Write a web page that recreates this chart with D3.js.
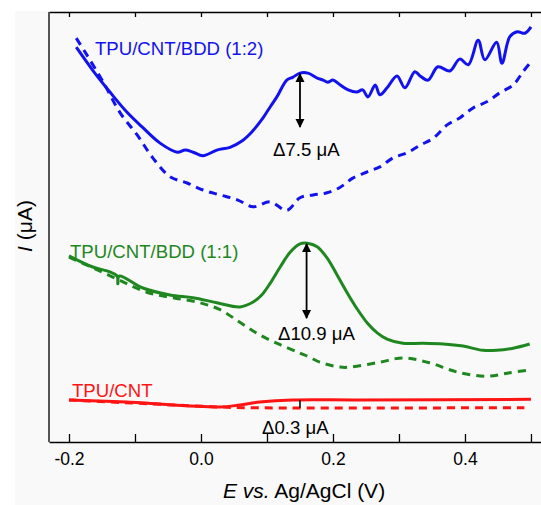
<!DOCTYPE html>
<html>
  <head>
    <meta charset="utf-8" />
    <title>DPV traces</title>
    <style>
      body { margin: 0; background: #fff; }
      svg { display: block; font-family: "Liberation Sans", Arial, sans-serif; }
    </style>
  </head>
  <body>
    <div id="chart"></div>
    <script src="https://cdn.jsdelivr.net/npm/d3@7"></script>
    <script>
      // values: [E (V), I (uA, arbitrary offset)]
      var blueSolid = [[-0.189,56.4],[-0.164,53.1],[-0.138,50.0],[-0.112,47.1],[-0.088,44.9],[-0.062,42.7],
        [-0.036,41.4],[-0.024,41.7],[-0.012,41.4],[0.003,40.9],[0.024,41.7],[0.044,42.1],[0.062,43.0],
        [0.077,44.3],[0.094,46.3],[0.105,47.9],[0.115,49.3],[0.130,51.7],[0.139,52.1],[0.150,52.7],
        [0.162,52.7],[0.176,52.0],[0.185,51.7],[0.192,51.4],[0.200,51.7],[0.211,51.0],[0.223,50.3],
        [0.236,50.0],[0.245,50.3],[0.253,49.3],[0.264,51.0],[0.271,49.6],[0.282,50.6],[0.297,52.3],
        [0.309,50.6],[0.324,52.9],[0.332,52.3],[0.344,51.7],[0.359,53.6],[0.377,53.0],[0.392,54.7],
        [0.405,53.9],[0.420,57.4],[0.430,54.6],[0.448,57.1],[0.456,54.1],[0.468,57.9],[0.479,58.6],
        [0.491,58.4],[0.500,59.3]];
      var blueDashed = [[-0.189,57.7],[-0.173,55.3],[-0.148,51.4],[-0.123,47.1],[-0.097,43.9],[-0.073,40.6],
        [-0.047,37.9],[-0.021,37.0],[0.003,36.0],[0.029,35.3],[0.055,34.6],[0.079,33.6],[0.105,34.3],
        [0.130,33.1],[0.150,34.9],[0.170,35.3],[0.191,35.6],[0.211,36.4],[0.230,37.7],[0.252,38.6],
        [0.271,39.3],[0.291,40.6],[0.312,41.3],[0.332,42.4],[0.352,43.4],[0.373,45.3],[0.392,46.3],
        [0.412,47.7],[0.433,48.6],[0.453,49.9],[0.473,51.0],[0.488,52.9],[0.500,54.3]];
      var greenSolid = [[-0.200,26.6],[-0.164,25.0],[-0.138,24.3],[-0.127,23.7],[-0.126,22.6],[-0.124,23.7],
        [-0.088,22.0],[-0.047,21.0],[-0.012,20.6],[0.024,19.9],[0.059,19.3],[0.079,20.0],[0.092,21.0],
        [0.105,22.7],[0.120,25.0],[0.135,27.1],[0.150,28.3],[0.161,28.4],[0.176,27.9],[0.191,26.3],
        [0.206,23.9],[0.221,21.4],[0.236,19.1],[0.252,17.0],[0.267,15.6],[0.282,14.7],[0.306,14.1],
        [0.336,14.1],[0.367,14.0],[0.397,13.7],[0.427,13.1],[0.448,13.1],[0.473,13.4],[0.498,14.0]];
      var greenDashed = [[-0.200,26.4],[-0.164,24.9],[-0.123,23.1],[-0.082,21.4],[-0.042,20.6],[-0.002,19.9],
        [0.029,18.9],[0.059,17.1],[0.089,15.3],[0.120,13.9],[0.150,12.7],[0.165,12.1],[0.180,11.4],
        [0.211,10.7],[0.226,10.7],[0.271,11.4],[0.306,12.0],[0.347,11.3],[0.388,10.0],[0.433,9.4],
        [0.468,9.9],[0.498,10.3]];
      var redSolid = [[-0.200,6.0],[-0.112,5.7],[0.029,5.0],[0.059,5.3],[0.089,5.7],[0.139,6.0],[0.241,6.0],[0.500,6.1]];
      var redDashed = [[-0.200,6.0],[0.029,5.0],[0.064,4.9],[0.490,4.9]];

      var seriesNames = ["TPU/CNT/BDD (1:2)", "TPU/CNT/BDD (1:1)", "TPU/CNT"];
      var seriesColors = ["#1212ee", "#1f871f", "#ff1414"];
      // peak-current markers: [E, I top, I bottom, label]
      var deltas = [[0.150, 52.6, 45.0, "\u03947.5 \u03bcA"],
                    [0.160, 28.3, 17.7, "\u039410.9 \u03bcA"],
                    [0.150, 6.0, 4.9, "\u03940.3 \u03bcA"]];
      var xTicks = [-0.2, -0.1, 0.0, 0.1, 0.2, 0.3, 0.4, 0.5];
      var xTickLabels = ["-0.2", "", "0.0", "", "0.2", "", "0.4", ""];

      var width = 541, height = 505;
      var svg = d3.select("#chart").append("svg")
        .attr("width", width)
        .attr("height", height);

      // light grey panel behind the plot
      svg.append("rect").attr("x", 15).attr("y", 11)
        .attr("width", width - 15).attr("height", height - 11)
        .attr("fill", "#f9f9f9");

      var x = d3.scaleLinear().domain([-0.2303, 0.5152]).range([49, 541]);
      var y = d3.scaleLinear().domain([0, 61.43]).range([442, 12]);

      var defs = svg.append("defs");
      defs.append("marker")
        .attr("id", "head")
        .attr("viewBox", "0 0 10 10")
        .attr("refX", 9).attr("refY", 5)
        .attr("markerWidth", 9).attr("markerHeight", 11)
        .attr("markerUnits", "userSpaceOnUse")
        .attr("orient", "auto-start-reverse")
        .append("path").attr("d", "M0,0L10,5L0,10Z").attr("fill", "#000");

      // axes
      var xAxisBottom = svg.append("g")
        .attr("transform", "translate(0,442)")
        .call(d3.axisBottom(x).tickValues(xTicks)
          .tickSizeInner(-8).tickSizeOuter(0).tickPadding(11)
          .tickFormat(function(d, i) { return xTickLabels[i]; }));
      xAxisBottom.select(".domain").attr("stroke", "#000").attr("stroke-width", 1.6);
      xAxisBottom.selectAll(".tick line").attr("stroke", "#000").attr("stroke-width", 1.3);
      xAxisBottom.selectAll("text").attr("font-size", 17.5).attr("fill", "#000")
        .attr("font-family", "Liberation Sans, Arial, sans-serif");

      var xAxisTop = svg.append("g")
        .attr("transform", "translate(0,12)")
        .call(d3.axisTop(x).tickValues(xTicks)
          .tickSizeInner(-5).tickSizeOuter(0).tickFormat(""));
      xAxisTop.select(".domain").attr("stroke", "#000").attr("stroke-width", 1.6);
      xAxisTop.selectAll(".tick line").attr("stroke", "#000").attr("stroke-width", 1.3);

      svg.append("line")
        .attr("x1", 49).attr("x2", 49).attr("y1", 12).attr("y2", 442)
        .attr("stroke", "#555").attr("stroke-width", 2);

      // curves
      var line = d3.line()
        .x(function(d) { return x(d[0]); })
        .y(function(d) { return y(d[1]); })
        .curve(d3.curveCatmullRom.alpha(0.5));

      var curves = [
        [blueDashed, 0, true], [blueSolid, 0, false],
        [greenDashed, 1, true], [greenSolid, 1, false],
        [redDashed, 2, true], [redSolid, 2, false]
      ];
      curves.forEach(function(c) {
        svg.append("path")
          .datum(c[0])
          .attr("d", line)
          .attr("fill", "none")
          .attr("stroke", seriesColors[c[1]])
          .attr("stroke-width", 3)
          .attr("stroke-dasharray", c[2] ? "8,6" : null);
      });

      // series labels
      var labelPos = [[95, 55], [70, 258], [72, 397]];
      seriesNames.forEach(function(name, i) {
        svg.append("text")
          .attr("x", labelPos[i][0]).attr("y", labelPos[i][1])
          .attr("font-size", 18.6)
          .attr("fill", seriesColors[i])
          .text(name);
      });

      // delta arrows and labels
      deltas.forEach(function(d, i) {
        var l = svg.append("line")
          .attr("x1", x(d[0])).attr("x2", x(d[0]))
          .attr("y1", y(d[1])).attr("y2", y(d[2]))
          .attr("stroke", "#000").attr("stroke-width", i < 2 ? 1.8 : 1.5);
        if (i < 2) {
          l.attr("marker-start", "url(#head)").attr("marker-end", "url(#head)");
        }
      });
      var deltaText = [[273, 156], [278, 340], [262, 434]];
      deltas.forEach(function(d, i) {
        svg.append("text")
          .attr("x", deltaText[i][0]).attr("y", deltaText[i][1])
          .attr("font-size", 18.6).attr("fill", "#000")
          .text(d[3]);
      });

      // axis titles
      var xt = svg.append("text")
        .attr("x", 304).attr("y", 498)
        .attr("text-anchor", "middle")
        .attr("font-size", 21).attr("fill", "#000");
      xt.append("tspan").attr("font-style", "italic").text("E");
      xt.append("tspan").text(" ");
      xt.append("tspan").attr("font-style", "italic").text("vs.");
      xt.append("tspan").text(" Ag/AgCl (V)");

      var yt = svg.append("text")
        .attr("transform", "translate(32,226) rotate(-90)")
        .attr("text-anchor", "middle")
        .attr("font-size", 21).attr("fill", "#000");
      yt.append("tspan").attr("font-style", "italic").text("I");
      yt.append("tspan").text(" (\u03bcA)");
    </script>
  </body>
</html>
